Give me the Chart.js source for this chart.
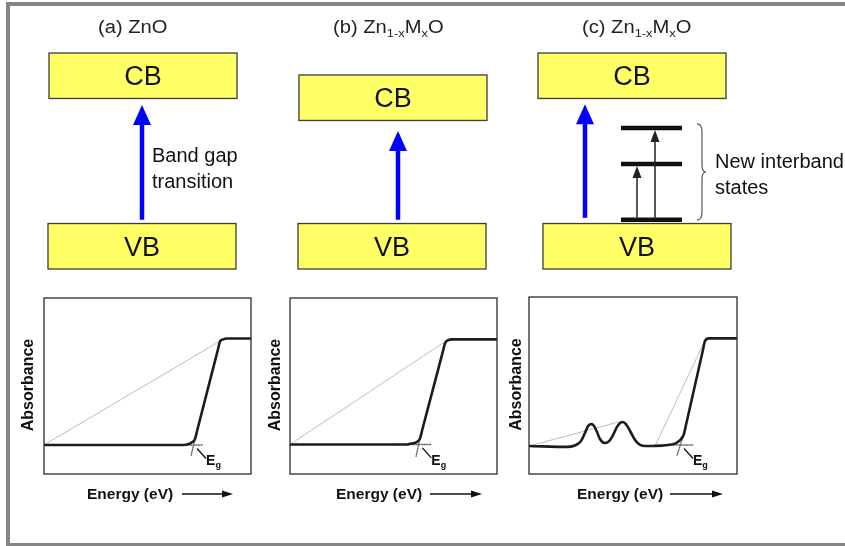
<!DOCTYPE html>
<html>
<head>
<meta charset="utf-8">
<script src="https://cdn.jsdelivr.net/npm/chart.js@4.4.1/dist/chart.umd.min.js"></script>
<style>
  html, body { margin: 0; padding: 0; background: #fff; }
  body { width: 845px; height: 546px; position: relative; overflow: hidden; }
  #frame { position: absolute; left: 6px; top: 2px; width: 900px; height: 545px;
           box-sizing: border-box; border: 4px solid #858585; border-right: none; }
  canvas { position: absolute; left: 0; top: 0; }
</style>
</head>
<body>
<div id="frame"></div>
<canvas id="bands" width="845" height="546"></canvas>
<canvas id="absA" width="845" height="546"></canvas>
<canvas id="absB" width="845" height="546"></canvas>
<canvas id="absC" width="845" height="546"></canvas>
<script>
// ---- band diagram (schematic energies, eV, VB top = 0) ----
const panelTitles = ['(a) ZnO', '(b) Zn_{1-x}M_{x}O', '(c) Zn_{1-x}M_{x}O'];
const bandNames = ['CB', 'VB'];
const cbEdge = [3.3, 2.72, 3.3];
const bandThickness = 1.2;
const gapFrom = [0.1, 0.1, 0.15];
const gapTo = [3.13, 2.44, 3.15];
const interbandLevels = [0.1, 1.57, 2.52];
const interbandFrom = [0.1, 0.1];
const interbandTo = [1.57, 2.52];
const braceRange = [0.09, 2.63];
const noteA = ['Band gap', 'transition'];
const noteC = ['New interband', 'states'];

// ---- absorbance curves (energy 0..10 arb., absorbance 0..1 arb.) ----
const energyA = [0, 6.71, 6.96, 7.15, 7.29, 7.40, 8.40, 8.50, 8.66, 8.83, 10];
const absA = [0.165, 0.165, 0.169, 0.180, 0.197, 0.247, 0.706, 0.752, 0.765, 0.770, 0.770];
const energyB = [0, 5.64, 5.89, 6.12, 6.28, 6.38, 7.39, 7.49, 7.65, 7.83, 10];
const absB = [0.168, 0.168, 0.173, 0.182, 0.202, 0.247, 0.698, 0.743, 0.761, 0.765, 0.765];
const energyC = [0, 1.88, 2.26, 2.5, 2.69, 2.84, 2.98, 3.13, 3.27, 3.41, 3.65, 3.85, 4.04, 4.23,
                 4.38, 4.52, 4.66, 4.86, 5.1, 5.34, 5.63, 6.06, 6.68, 7.07, 7.31, 7.45, 7.55, 8.36, 8.46, 8.65, 10];
const absC = [0.158, 0.153, 0.164, 0.186, 0.232, 0.271, 0.282, 0.271, 0.237, 0.198, 0.175, 0.186, 0.220, 0.266,
              0.288, 0.294, 0.282, 0.243, 0.192, 0.164, 0.158, 0.158, 0.164, 0.175, 0.198, 0.226, 0.278, 0.699,
              0.751, 0.766, 0.766];
// grey extrapolation lines
const guideAx = [0, 8.57], guideAy = [0.165, 0.76];
const guideBx = [0, 7.49], guideBy = [0.168, 0.752];
const guideC1x = [0, 4.34], guideC1y = [0.158, 0.295];
const guideC2x = [6.06, 8.46], guideC2y = [0.158, 0.755];
// Eg crosshair: dotted baseline segment and tangent extension
const egEnergy = [7.2, 6.2, 7.26];
const egAbs = [0.165, 0.168, 0.164];
const egDotX = [[6.2, 7.7], [5.1, 6.85], [6.06, 7.93]];
const egTiltX = [[7.29, 7.10], [6.28, 6.09], [7.40, 7.12]];
const egTiltY = [[0.20, 0.10], [0.205, 0.10], [0.209, 0.107]];

const FONT = '"Liberation Sans", Arial, Helvetica, sans-serif';
const bandLayout = {
  boxWidth: 188, cbLeft: [49, 299, 538], vbLeft: [48, 298, 543],
  arrowX: [142, 398, 585], titleX: [98, 333, 582],
  levelX: [621, 682], interArrowX: [637, 655], braceX: 697,
  noteAX: 152, noteCX: 715
};

function pts(xs, ys) { return xs.map((v, i) => ({ x: v, y: ys[i] })); }

function drawArrowUp(ctx, px, pyFrom, pyTip, color, shaftW, headW, headL) {
  ctx.strokeStyle = color; ctx.fillStyle = color; ctx.lineWidth = shaftW;
  ctx.beginPath(); ctx.moveTo(px, pyFrom); ctx.lineTo(px, pyTip + headL - 1); ctx.stroke();
  ctx.beginPath(); ctx.moveTo(px, pyTip); ctx.lineTo(px - headW / 2, pyTip + headL);
  ctx.lineTo(px + headW / 2, pyTip + headL); ctx.closePath(); ctx.fill();
}

function drawTitle(ctx, text, x0, base) {
  // split "_{...}" into subscripts
  const parts = text.split(/(_\{[^}]*\})/).filter(s => s);
  ctx.save();
  ctx.translate(x0, base); ctx.scale(1.12, 1);
  let cx = 0;
  ctx.textAlign = 'left'; ctx.textBaseline = 'alphabetic'; ctx.fillStyle = '#222';
  parts.forEach(p => {
    const sub = p.startsWith('_{');
    const t = sub ? p.slice(2, -1) : p;
    ctx.font = (sub ? '11.5px ' : '18px ') + FONT;
    ctx.fillText(t, cx, sub ? 4 : 0);
    cx += ctx.measureText(t).width;
  });
  ctx.restore();
}

function drawBand(ctx, x, y, left, e0, e1, label) {
  const px0 = x.getPixelForValue(left), px1 = x.getPixelForValue(left + bandLayout.boxWidth);
  const py0 = y.getPixelForValue(e1), py1 = y.getPixelForValue(e0);
  ctx.fillStyle = '#ffff66';
  ctx.fillRect(px0, py0, px1 - px0, py1 - py0);
  ctx.strokeStyle = '#3c3c3c'; ctx.lineWidth = 1.3;
  ctx.strokeRect(px0, py0, px1 - px0, py1 - py0);
  ctx.fillStyle = '#111'; ctx.font = '27px ' + FONT;
  ctx.textAlign = 'center'; ctx.textBaseline = 'alphabetic';
  ctx.fillText(label, (px0 + px1) / 2, (py0 + py1) / 2 + 9.5);
}

const bandPlugin = {
  id: 'bandDiagram',
  afterDraw(chart) {
    const { ctx, scales: { x, y } } = chart;
    const L = bandLayout;
    ctx.save();
    for (let i = 0; i < 3; i++) {
      drawBand(ctx, x, y, L.cbLeft[i], cbEdge[i], cbEdge[i] + bandThickness, bandNames[0]);
      drawBand(ctx, x, y, L.vbLeft[i], -bandThickness, 0, bandNames[1]);
      drawTitle(ctx, panelTitles[i], L.titleX[i], 33);
      drawArrowUp(ctx, x.getPixelForValue(L.arrowX[i]), y.getPixelForValue(gapFrom[i]),
                  y.getPixelForValue(gapTo[i]), '#0000ff', 4.5, 18, 20);
    }
    // interband levels (panel c)
    ctx.strokeStyle = '#111'; ctx.lineWidth = 4.5;
    interbandLevels.forEach(e => {
      const py = y.getPixelForValue(e);
      ctx.beginPath(); ctx.moveTo(x.getPixelForValue(L.levelX[0]), py);
      ctx.lineTo(x.getPixelForValue(L.levelX[1]), py); ctx.stroke();
    });
    interbandFrom.forEach((e, i) => {
      drawArrowUp(ctx, x.getPixelForValue(L.interArrowX[i]), y.getPixelForValue(e) - 2,
                  y.getPixelForValue(interbandTo[i]) + 2, '#222', 1.5, 9, 12);
    });
    // brace
    const bx = x.getPixelForValue(L.braceX);
    const yb = y.getPixelForValue(braceRange[0]), yt = y.getPixelForValue(braceRange[1]);
    const ym = (yb + yt) / 2;
    ctx.strokeStyle = '#555'; ctx.lineWidth = 1.2;
    ctx.beginPath();
    ctx.moveTo(bx, yt);
    ctx.quadraticCurveTo(bx + 5, yt, bx + 5, yt + 8);
    ctx.lineTo(bx + 5, ym - 7);
    ctx.quadraticCurveTo(bx + 5, ym, bx + 9, ym);
    ctx.quadraticCurveTo(bx + 5, ym, bx + 5, ym + 7);
    ctx.lineTo(bx + 5, yb - 8);
    ctx.quadraticCurveTo(bx + 5, yb, bx, yb);
    ctx.stroke();
    // notes
    ctx.fillStyle = '#111'; ctx.font = '20px ' + FONT;
    ctx.textAlign = 'left'; ctx.textBaseline = 'alphabetic';
    ctx.fillText(noteA[0], L.noteAX, 162);
    ctx.fillText(noteA[1], L.noteAX, 188);
    ctx.fillText(noteC[0], L.noteCX, 168);
    ctx.fillText(noteC[1], L.noteCX, 194);
    ctx.restore();
  }
};

new Chart(document.getElementById('bands'), {
  type: 'scatter',
  data: { datasets: [] },
  options: {
    responsive: false, animation: false, events: [],
    layout: { padding: { top: 53, bottom: 277, left: 0, right: 0 } },
    plugins: { legend: { display: false }, tooltip: { enabled: false } },
    scales: {
      x: { type: 'linear', min: 0, max: 845, display: false },
      y: { type: 'linear', min: -bandThickness, max: 4.5, display: false }
    }
  },
  plugins: [bandPlugin]
});

// ---- absorbance panels ----
const absPlugin = {
  id: 'absDecor',
  afterDraw(chart, args, o) {
    const { ctx, chartArea: a, scales: { x, y } } = chart;
    ctx.save();
    ctx.strokeStyle = '#2b2b2b'; ctx.lineWidth = 1.3;
    ctx.strokeRect(a.left, a.top, a.right - a.left, a.bottom - a.top);
    // Eg pointer
    const ex = x.getPixelForValue(o.eg), ey = y.getPixelForValue(o.egY);
    ctx.strokeStyle = '#111'; ctx.lineWidth = 1.3;
    ctx.beginPath(); ctx.moveTo(ex + 4, ey + 3.5); ctx.lineTo(ex + 13, ey + 13.5); ctx.stroke();
    ctx.fillStyle = '#111'; ctx.textAlign = 'left'; ctx.textBaseline = 'alphabetic';
    ctx.font = 'bold 14px ' + FONT;
    ctx.fillText('E', ex + 13, ey + 20.5);
    const w = ctx.measureText('E').width;
    ctx.font = 'bold 9px ' + FONT;
    ctx.fillText('g', ex + 13 + w, ey + 23.5);
    // x title + arrow
    ctx.font = 'bold 15.5px ' + FONT;
    ctx.fillText('Energy (eV)', a.left + o.xTitle, a.bottom + 24.5);
    const ay = a.bottom + 20;
    ctx.lineWidth = 1.3; ctx.strokeStyle = '#111';
    ctx.beginPath(); ctx.moveTo(a.left + o.arrow[0], ay); ctx.lineTo(a.left + o.arrow[1] - 8, ay); ctx.stroke();
    ctx.beginPath(); ctx.moveTo(a.left + o.arrow[1], ay); ctx.lineTo(a.left + o.arrow[1] - 11, ay - 3.5);
    ctx.lineTo(a.left + o.arrow[1] - 11, ay + 3.5); ctx.closePath(); ctx.fill();
    // y title
    ctx.translate(a.left - o.yTitle, (a.top + a.bottom) / 2 - 1);
    ctx.rotate(-Math.PI / 2);
    ctx.font = 'bold 16px ' + FONT; ctx.textAlign = 'center'; ctx.textBaseline = 'middle';
    ctx.fillText('Absorbance', 0, 0);
    ctx.restore();
  }
};

function absChart(id, frame, curveX, curveY, guides, k, deco) {
  const datasets = [
    { data: pts(curveX, curveY), borderColor: '#1c1c1c', borderWidth: 2.6,
      cubicInterpolationMode: 'monotone', order: 0 }
  ];
  guides.forEach(g => datasets.push({ data: pts(g[0], g[1]), borderColor: '#bdbdbd', borderWidth: 1, order: 2 }));
  datasets.push({ data: pts(egDotX[k], [egAbs[k], egAbs[k]]), borderColor: '#6a6a6a', borderWidth: 1.4,
                  borderDash: [1.2, 1.4], order: 1 });
  datasets.push({ data: pts(egTiltX[k], egTiltY[k]), borderColor: '#6a6a6a', borderWidth: 1.4,
                  borderDash: [1.2, 1.4], order: 1 });
  new Chart(document.getElementById(id), {
    type: 'line',
    data: { datasets },
    options: {
      responsive: false, animation: false, events: [],
      layout: { padding: { left: frame[0], right: 845 - frame[1], top: frame[2], bottom: 546 - frame[3] } },
      elements: { point: { radius: 0 }, line: { borderCapStyle: 'round', borderJoinStyle: 'round' } },
      plugins: {
        legend: { display: false }, tooltip: { enabled: false },
        absDecor: { eg: egEnergy[k], egY: egAbs[k], xTitle: deco.xTitle, arrow: deco.arrow, yTitle: deco.yTitle }
      },
      scales: {
        x: { type: 'linear', min: 0, max: 10, display: false },
        y: { type: 'linear', min: 0, max: 1, display: false }
      }
    },
    plugins: [absPlugin]
  });
}

absChart('absA', [44, 251, 298, 474], energyA, absA, [[guideAx, guideAy]], 0,
         { xTitle: 43, arrow: [138, 189], yTitle: 15.5 });
absChart('absB', [290, 497, 298, 474], energyB, absB, [[guideBx, guideBy]], 1,
         { xTitle: 46, arrow: [140, 192], yTitle: 14.5 });
absChart('absC', [529, 737, 297, 474], energyC, absC, [[guideC1x, guideC1y], [guideC2x, guideC2y]], 2,
         { xTitle: 48, arrow: [141, 194], yTitle: 12 });
</script>
</body>
</html>
